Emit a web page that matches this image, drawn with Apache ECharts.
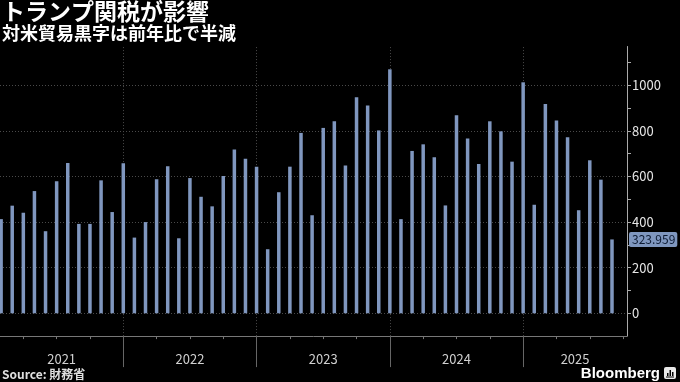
<!DOCTYPE html>
<html><head><meta charset="utf-8">
<script src="https://cdn.jsdelivr.net/npm/echarts@6/dist/echarts.min.js"></script>
<style>html,body{margin:0;padding:0;background:#000;}#c{width:680px;height:382px;}</style>
</head><body><div id="c"></div>
<script>
const titleText = 'トランプ関税が影響';
const subtitleText = '対米貿易黒字は前年比で半減';
const sourceText = 'Source: 財務省';
const months = [
 '2021-01','2021-02','2021-03','2021-04','2021-05','2021-06','2021-07','2021-08','2021-09','2021-10','2021-11','2021-12',
 '2022-01','2022-02','2022-03','2022-04','2022-05','2022-06','2022-07','2022-08','2022-09','2022-10','2022-11','2022-12',
 '2023-01','2023-02','2023-03','2023-04','2023-05','2023-06','2023-07','2023-08','2023-09','2023-10','2023-11','2023-12',
 '2024-01','2024-02','2024-03','2024-04','2024-05','2024-06','2024-07','2024-08','2024-09','2024-10','2024-11','2024-12',
 '2025-01','2025-02','2025-03','2025-04','2025-05','2025-06','2025-07','2025-08'
];
const surplus = [
 413, 472, 441, 536, 360, 579, 659, 392, 392, 583, 444, 658,
 332, 400, 588, 645, 329, 593, 511, 469, 602, 718, 678, 643,
 281, 531, 643, 791, 430, 813, 842, 648, 947, 911, 802, 1070,
 413, 712, 741, 684, 473, 868, 767, 655, 842, 798, 665, 1013,
 476, 918, 846, 772, 452, 671, 586, 323.959
];
const years = [2021, 2022, 2023, 2024, 2025];
const yTickValues = [0,100,200,300,400,500,600,700,800,900,1000,1100];
const yLabelValues = [0,200,400,600,800,1000];

const X_MIN = 0.9, X_MAX = 57.35;
function monthIndex(s){ const p = s.split('-'); return (+p[0]-2021)*12 + (+p[1]); }
const barData = months.map((m,i)=>[monthIndex(m), surplus[i]]);
const yearBounds = years.slice(1).map(y => (y-2021)*12);
const yearCenters = years.map(y => { const s=(y-2021)*12, e=s+12; return (Math.max(s,X_MIN)+Math.min(e,X_MAX))/2; });
const quarterTicks = []; for (let q=3; q<=X_MAX; q+=3) quarterTicks.push(q);
const lastPoint = barData[barData.length-1];
const lastVal = lastPoint[1];

const chart = echarts.init(document.getElementById('c'), null, {renderer:'canvas'});
const FONT = "'Noto Sans CJK JP','Noto Sans',sans-serif";
const gridLine = {color:'#4a4a4a', type:[1,2], width:1};
chart.setOption({
  backgroundColor:'#000',
  animation:false,
  textStyle:{fontFamily:FONT},
  title:{
    text:titleText, subtext:subtitleText, left:0, top:0, itemGap:1, padding:[0,2],
    textStyle:{color:'#fff', fontSize:23, fontWeight:'bold', fontFamily:FONT},
    subtextStyle:{color:'#fff', fontSize:18, fontWeight:'bold', fontFamily:FONT}
  },
  grid:{left:0, right:53, top:46.5, bottom:45.9, containLabel:false},
  xAxis:[{
    type:'value', min:X_MIN, max:X_MAX, position:'bottom',
    axisLine:{show:true, onZero:false, lineStyle:{color:'#777', width:1}},
    axisTick:{show:true, customValues:quarterTicks, length:3, lineStyle:{color:'#777'}},
    axisLabel:{show:true, customValues:yearCenters, margin:16, color:'#d0d0d0', fontSize:13, fontFamily:FONT,
      formatter:v=>String(2021+Math.floor(v/12))},
    splitLine:{show:false}
  },{
    type:'value', min:X_MIN, max:X_MAX, position:'bottom',
    axisLine:{show:false, onZero:false},
    axisTick:{show:true, customValues:yearBounds, length:31, lineStyle:{color:'#666'}},
    axisLabel:{show:false},
    splitLine:{show:false}
  }],
  yAxis:{
    type:'value', position:'right', min:-100, max:1170,
    axisLine:{show:true, lineStyle:{color:'#aaa'}},
    axisTick:{show:true, customValues:yTickValues, length:4, lineStyle:{color:'#aaa'}},
    axisLabel:{show:true, customValues:yLabelValues, margin:5, color:'#e6e6e6', fontSize:13, fontFamily:FONT,
      formatter:v=>String(v)},
    splitLine:{show:false}
  },
  series:[{
    type:'bar', xAxisIndex:0, data:barData, barWidth:3.5, z:2, clip:false,
    itemStyle:{color:'#8097bf'},
    markLine:{
      silent:true, symbol:['none','none'], z:1, animation:false,
      label:{show:false},
      data:[
        ...yLabelValues.map(v=>({yAxis:v, lineStyle:gridLine})),
        ...yearBounds.map(v=>({xAxis:v, lineStyle:gridLine}))
      ]
    }
  },{
    type:'line', xAxisIndex:0, data:[lastPoint], z:6, clip:false,
    symbol:'none', lineStyle:{width:0}, silent:true,
    markLine:{
      silent:true, symbol:['none','none'], animation:false,
      data:[{yAxis:lastVal, lineStyle:{color:'rgba(0,0,0,0)', width:1},
        label:{show:true, position:'end', distance:2, formatter:()=>lastVal.toFixed(3),
          backgroundColor:'#7f97bf', color:'#0c1a33', fontSize:12, padding:[2,2,1,3], borderRadius:2, fontFamily:FONT}}]
    }
  }],
  graphic:[
    {type:'text', left:2, bottom:2, style:{text:sourceText, fill:'#e0e0e0', font:"bold 12px "+FONT}},
    {type:'text', right:20, bottom:1, style:{text:'Bloomberg', fill:'#fff', font:"bold 15px 'Liberation Sans','DejaVu Sans',sans-serif"}},
    {type:'group', right:4, bottom:3, children:[
      {type:'rect', shape:{x:0,y:0,width:12,height:12,r:2}, style:{fill:'#e8e8e8'}},
      {type:'rect', shape:{x:3,y:6,width:1.5,height:3}, style:{fill:'#000'}},
      {type:'rect', shape:{x:5.5,y:3,width:1.5,height:6}, style:{fill:'#000'}},
      {type:'rect', shape:{x:8,y:5,width:1.5,height:4}, style:{fill:'#000'}},
      {type:'rect', shape:{x:2,y:9.5,width:8,height:1}, style:{fill:'#000'}}
    ]}
  ]
});
</script>
</body></html>
